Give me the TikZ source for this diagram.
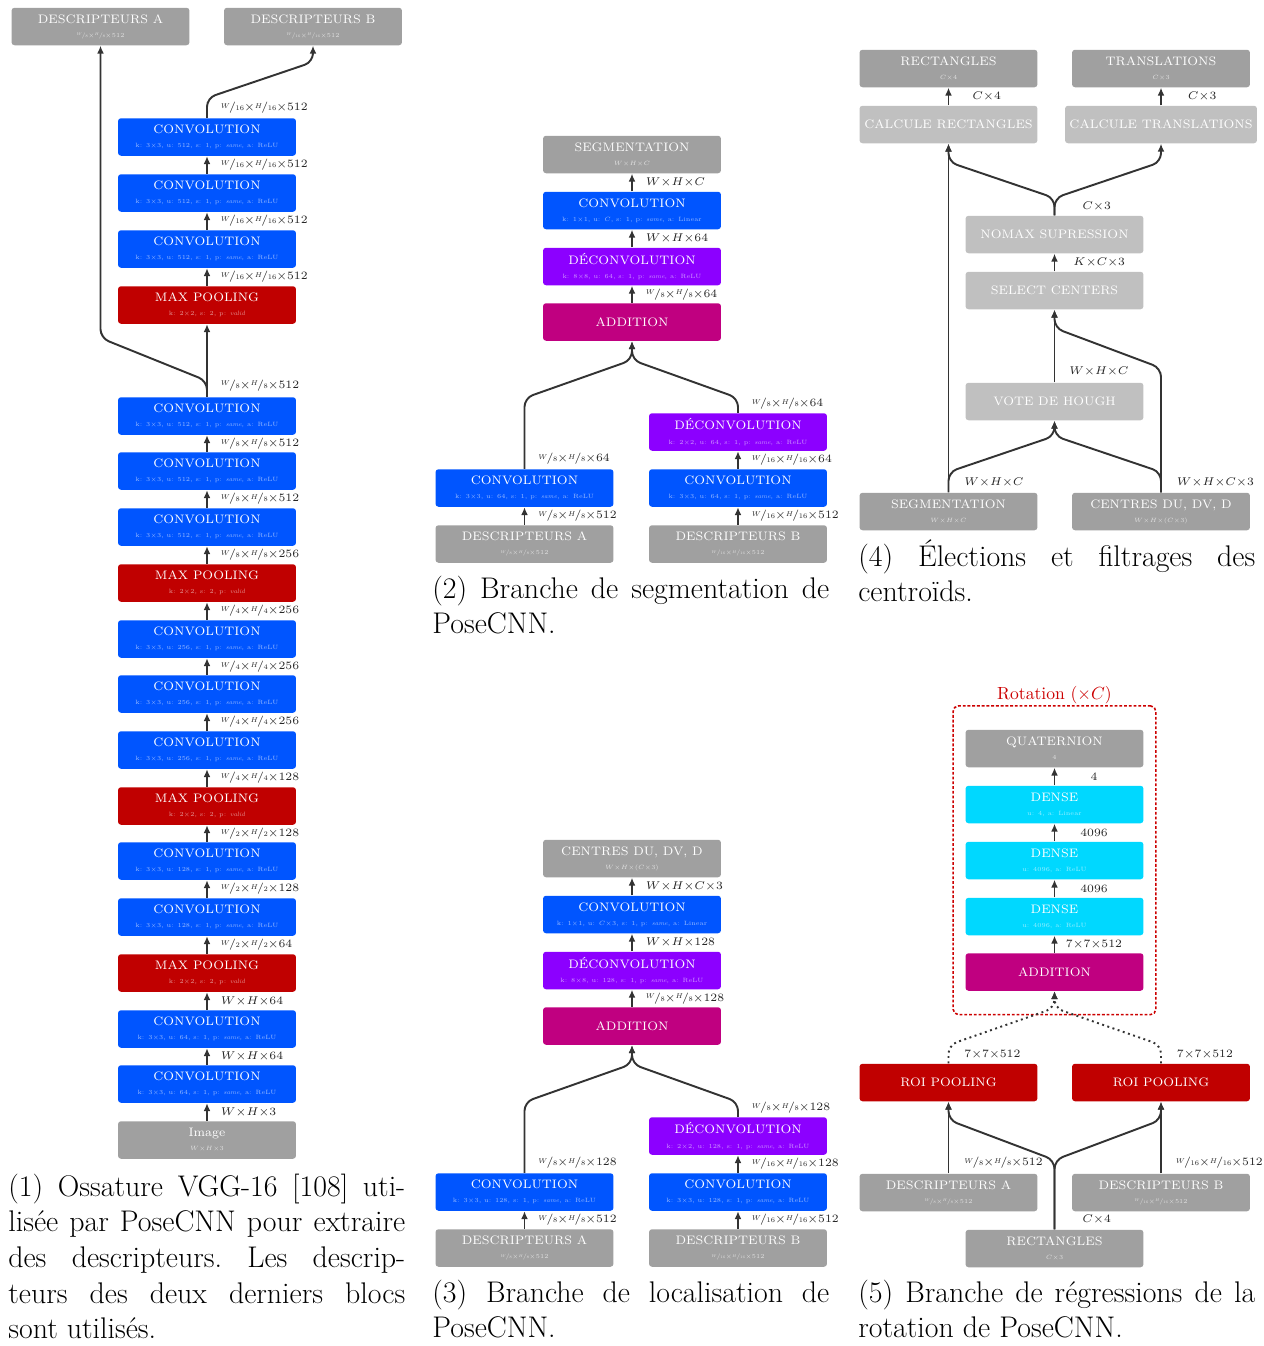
\RequirePackage{fix-cm}
\documentclass[tikz,border=0pt]{standalone}
\usepackage{fontspec}
\usepackage{graphicx}
\usepackage{tikz}
\usetikzlibrary{arrows.meta,positioning,fit}
\definecolor{convblue}{RGB}{0,85,255}
\definecolor{poolred}{RGB}{192,0,0}
\definecolor{deconvviolet}{RGB}{140,0,255}
\definecolor{addmagenta}{RGB}{192,0,128}
\definecolor{datagray}{RGB}{160,160,160}
\definecolor{opgray}{RGB}{192,192,192}
\definecolor{densecyan}{RGB}{0,216,255}
\definecolor{arrowgray}{RGB}{51,51,51}
\definecolor{framered}{RGB}{204,0,0}
\colorlet{subtxt}{white}

\newcommand\ttlfont{\fontsize{7}{8}\selectfont\addfontfeature{LetterSpace=6}}
\newcommand\subfont{\normalfont\fontsize{3.5}{4}\selectfont}
\newcommand\dimfont{\fontsize{6.4}{7.5}\selectfont}
\newcommand\capfont{\fontsize{17}{20.3}\selectfont\frenchspacing}
\newcommand\rotfont{\fontsize{10}{12}\selectfont}
\newcommand\frc[2]{\raisebox{0.45ex}{\scalebox{0.62}{$#1$}}\kern-0.08em/\kern-0.05em\scalebox{0.62}{#2}}
\newcommand\whd[2]{$\frc{W}{#1}{\times}\frc{H}{#1}{\times}#2$}
\newcommand\blk[2]{#1\\{\subfont\color{subtxt}#2}}
\newcommand\convsub[2]{k: #1$\times$#1, u: #2, s: 1, p: \textit{same}, a: ReLU}
\newcommand\poolsub{k: 2$\times$2, s: 2, p: \textit{valid}}

\begin{document}
\begin{tikzpicture}[x=0.02cm, y=-0.02cm,
    blockbase/.style={rectangle, rounded corners=1.7pt, minimum width=3.56cm,
                      minimum height=0.75cm, inner sep=0pt, align=center,
                      text=white, font=\ttlfont},
    convblk/.style={blockbase, fill=convblue,
                    execute at begin node={\colorlet{subtxt}{white!60!convblue}}},
    poolblk/.style={blockbase, fill=poolred,
                    execute at begin node={\colorlet{subtxt}{white!60!poolred}}},
    deconvblk/.style={blockbase, fill=deconvviolet,
                      execute at begin node={\colorlet{subtxt}{white!60!deconvviolet}}},
    addblk/.style={blockbase, fill=addmagenta},
    datablk/.style={blockbase, fill=datagray,
                    execute at begin node={\colorlet{subtxt}{white!70!datagray}}},
    opblk/.style={blockbase, fill=opgray},
    denseblk/.style={blockbase, fill=densecyan,
                     execute at begin node={\colorlet{subtxt}{white!60!densecyan}}},
    flow/.style={-{Latex[length=4.5pt,width=3.8pt]}, line width=1.1pt,
                 draw=arrowgray, rounded corners=5pt},
    roiflow/.style={flow, dotted},
    dimlab/.style={font=\dimfont, text=black!85, inner sep=0pt},
    captext/.style={font=\capfont, text width=7.94cm, align=justify,
                    inner sep=0pt, anchor=base west},
    rotframe/.style={draw=framered, dash pattern=on 1.6pt off 1.1pt,
                     line width=0.9pt, rounded corners=3pt,
                     inner xsep=0.24cm, inner ysep=0.47cm},
  ]
  \useasboundingbox (0,0) rectangle (1264,1346);

  \node[datablk] (descA) at (100.5,26.5) {\blk{DESCRIPTEURS A}{\whd{8}{512}}};
  \node[datablk] (descB) at (313,26.5) {\blk{DESCRIPTEURS B}{\whd{16}{512}}};
  \node[convblk] (c53) at (207,137) {\blk{CONVOLUTION}{\convsub{3}{512}}};
  \node[convblk] (c52) at (207,193) {\blk{CONVOLUTION}{\convsub{3}{512}}};
  \node[convblk] (c51) at (207,249) {\blk{CONVOLUTION}{\convsub{3}{512}}};
  \node[poolblk] (p4) at (207,305) {\blk{MAX POOLING}{\poolsub}};
  \node[convblk] (c43) at (207,416) {\blk{CONVOLUTION}{\convsub{3}{512}}};
  \node[convblk] (c42) at (207,471) {\blk{CONVOLUTION}{\convsub{3}{512}}};
  \node[convblk] (c41) at (207,527) {\blk{CONVOLUTION}{\convsub{3}{512}}};
  \node[poolblk] (p3) at (207,583) {\blk{MAX POOLING}{\poolsub}};
  \node[convblk] (c33) at (207,639) {\blk{CONVOLUTION}{\convsub{3}{256}}};
  \node[convblk] (c32) at (207,694) {\blk{CONVOLUTION}{\convsub{3}{256}}};
  \node[convblk] (c31) at (207,750) {\blk{CONVOLUTION}{\convsub{3}{256}}};
  \node[poolblk] (p2) at (207,806) {\blk{MAX POOLING}{\poolsub}};
  \node[convblk] (c22) at (207,861) {\blk{CONVOLUTION}{\convsub{3}{128}}};
  \node[convblk] (c21) at (207,917) {\blk{CONVOLUTION}{\convsub{3}{128}}};
  \node[poolblk] (p1) at (207,973) {\blk{MAX POOLING}{\poolsub}};
  \node[convblk] (c12) at (207,1029) {\blk{CONVOLUTION}{\convsub{3}{64}}};
  \node[convblk] (c11) at (207,1084) {\blk{CONVOLUTION}{\convsub{3}{64}}};
  \node[datablk] (img) at (207,1140) {\blk{Image}{$W{\times}H{\times}3$}};

  \draw[flow] (img.north) -- (c11.south)
        node[dimlab, midway, right=0.26cm] {$W{\times}H{\times}3$};
  \draw[flow] (c11.north) -- (c12.south)
        node[dimlab, midway, right=0.26cm] {$W{\times}H{\times}64$};
  \draw[flow] (c12.north) -- (p1.south)
        node[dimlab, midway, right=0.26cm] {$W{\times}H{\times}64$};
  \draw[flow] (p1.north) -- (c21.south)
        node[dimlab, midway, right=0.26cm] {\whd{2}{64}};
  \draw[flow] (c21.north) -- (c22.south)
        node[dimlab, midway, right=0.26cm] {\whd{2}{128}};
  \draw[flow] (c22.north) -- (p2.south)
        node[dimlab, midway, right=0.26cm] {\whd{2}{128}};
  \draw[flow] (p2.north) -- (c31.south)
        node[dimlab, midway, right=0.26cm] {\whd{4}{128}};
  \draw[flow] (c31.north) -- (c32.south)
        node[dimlab, midway, right=0.26cm] {\whd{4}{256}};
  \draw[flow] (c32.north) -- (c33.south)
        node[dimlab, midway, right=0.26cm] {\whd{4}{256}};
  \draw[flow] (c33.north) -- (p3.south)
        node[dimlab, midway, right=0.26cm] {\whd{4}{256}};
  \draw[flow] (p3.north) -- (c41.south)
        node[dimlab, midway, right=0.26cm] {\whd{8}{256}};
  \draw[flow] (c41.north) -- (c42.south)
        node[dimlab, midway, right=0.26cm] {\whd{8}{512}};
  \draw[flow] (c42.north) -- (c43.south)
        node[dimlab, midway, right=0.26cm] {\whd{8}{512}};
  \draw[flow] (c43.north) -- (p4.south)
        node[dimlab, pos=0.16, right=0.26cm] {\whd{8}{512}};
  \draw[flow] (c43.north) -- ++(0,-16) -- (descA.south |- 0,338) -- (descA.south);
  \draw[flow] (p4.north) -- (c51.south)
        node[dimlab, midway, right=0.26cm] {\whd{16}{512}};
  \draw[flow] (c51.north) -- (c52.south)
        node[dimlab, midway, right=0.26cm] {\whd{16}{512}};
  \draw[flow] (c52.north) -- (c53.south)
        node[dimlab, midway, right=0.26cm] {\whd{16}{512}};
  \draw[flow] (c53.north) -- ++(0,-20)
        node[dimlab, midway, right=0.26cm] {\whd{16}{512}}
        -- (descB.south |- 0,62) -- (descB.south);

  \node[datablk] (segout) at (632,154.5) {\blk{SEGMENTATION}{$W{\times}H{\times}C$}};
  \node[convblk] (sconv) at (632,210.5)
        {\blk{CONVOLUTION}{k: 1$\times$1, u: $C$, s: 1, p: \textit{same}, a: Linear}};
  \node[deconvblk] (sdeconv) at (632,266.5) {\blk{DÉCONVOLUTION}{\convsub{8}{64}}};
  \node[addblk] (sadd) at (632,322) {ADDITION};
  \node[convblk] (sconvA) at (524.5,488) {\blk{CONVOLUTION}{\convsub{3}{64}}};
  \node[datablk] (sdescA) at (524.5,544) {\blk{DESCRIPTEURS A}{\whd{8}{512}}};
  \node[deconvblk] (sdeconvB) at (738,432) {\blk{DÉCONVOLUTION}{\convsub{2}{64}}};
  \node[convblk] (sconvB) at (738,488) {\blk{CONVOLUTION}{\convsub{3}{64}}};
  \node[datablk] (sdescB) at (738,544) {\blk{DESCRIPTEURS B}{\whd{16}{512}}};

  \draw[flow] (sconv.north) -- (segout.south)
        node[dimlab, midway, right=0.26cm] {$W{\times}H{\times}C$};
  \draw[flow] (sdeconv.north) -- (sconv.south)
        node[dimlab, midway, right=0.26cm] {$W{\times}H{\times}64$};
  \draw[flow] (sadd.north) -- (sdeconv.south)
        node[dimlab, midway, right=0.26cm] {\whd{8}{64}};
  \draw[flow] (sconvA.north)
        -- node[dimlab, pos=0.14, right=0.26cm] {\whd{8}{64}} (sconvA.north |- 0,398)
        -- (sadd.south |- 0,360) -- (sadd.south);
  \draw[flow] (sdeconvB.north)
        -- node[dimlab, pos=0.6, right=0.26cm] {\whd{8}{64}} (sdeconvB.north |- 0,398)
        -- (sadd.south |- 0,360) -- (sadd.south);
  \draw[flow] (sdescA.north) -- (sconvA.south)
        node[dimlab, midway, right=0.26cm] {\whd{8}{512}};
  \draw[flow] (sconvB.north) -- (sdeconvB.south)
        node[dimlab, midway, right=0.26cm] {\whd{16}{64}};
  \draw[flow] (sdescB.north) -- (sconvB.south)
        node[dimlab, midway, right=0.26cm] {\whd{16}{512}};

  \node[datablk] (locout) at (632,858.5)
        {\blk{CENTRES DU, DV, D}{$W{\times}H{\times}(C{\times}3)$}};
  \node[convblk] (lconv) at (632,914.5)
        {\blk{CONVOLUTION}{k: 1$\times$1, u: $C{\times}3$, s: 1, p: \textit{same}, a: Linear}};
  \node[deconvblk] (ldeconv) at (632,970.5) {\blk{DÉCONVOLUTION}{\convsub{8}{128}}};
  \node[addblk] (ladd) at (632,1026) {ADDITION};
  \node[convblk] (lconvA) at (524.5,1192) {\blk{CONVOLUTION}{\convsub{3}{128}}};
  \node[datablk] (ldescA) at (524.5,1248) {\blk{DESCRIPTEURS A}{\whd{8}{512}}};
  \node[deconvblk] (ldeconvB) at (738,1136) {\blk{DÉCONVOLUTION}{\convsub{2}{128}}};
  \node[convblk] (lconvB) at (738,1192) {\blk{CONVOLUTION}{\convsub{3}{128}}};
  \node[datablk] (ldescB) at (738,1248) {\blk{DESCRIPTEURS B}{\whd{16}{512}}};

  \draw[flow] (lconv.north) -- (locout.south)
        node[dimlab, midway, right=0.26cm] {$W{\times}H{\times}C{\times}3$};
  \draw[flow] (ldeconv.north) -- (lconv.south)
        node[dimlab, midway, right=0.26cm] {$W{\times}H{\times}128$};
  \draw[flow] (ladd.north) -- (ldeconv.south)
        node[dimlab, midway, right=0.26cm] {\whd{8}{128}};
  \draw[flow] (lconvA.north)
        -- node[dimlab, pos=0.14, right=0.26cm] {\whd{8}{128}} (lconvA.north |- 0,1102)
        -- (ladd.south |- 0,1064) -- (ladd.south);
  \draw[flow] (ldeconvB.north)
        -- node[dimlab, pos=0.6, right=0.26cm] {\whd{8}{128}} (ldeconvB.north |- 0,1102)
        -- (ladd.south |- 0,1064) -- (ladd.south);
  \draw[flow] (ldescA.north) -- (lconvA.south)
        node[dimlab, midway, right=0.26cm] {\whd{8}{512}};
  \draw[flow] (lconvB.north) -- (ldeconvB.south)
        node[dimlab, midway, right=0.26cm] {\whd{16}{128}};
  \draw[flow] (ldescB.north) -- (lconvB.south)
        node[dimlab, midway, right=0.26cm] {\whd{16}{512}};

  \node[datablk] (rect) at (948.5,68.5) {\blk{RECTANGLES}{$C{\times}4$}};
  \node[datablk] (trans) at (1161,68.5) {\blk{TRANSLATIONS}{$C{\times}3$}};
  \node[opblk] (crect) at (948.5,124.5) {CALCULE RECTANGLES};
  \node[opblk, minimum width=3.84cm] (ctrans) at (1161,124.5) {CALCULE TRANSLATIONS};
  \node[opblk] (nms) at (1054.5,234.5) {NOMAX SUPRESSION};
  \node[opblk] (sel) at (1054.5,290.5) {SELECT CENTERS};
  \node[opblk] (hough) at (1054.5,401.5) {VOTE DE HOUGH};
  \node[datablk] (eseg) at (948.5,511.5) {\blk{SEGMENTATION}{$W{\times}H{\times}C$}};
  \node[datablk] (ectr) at (1161,511.5)
        {\blk{CENTRES DU, DV, D}{$W{\times}H{\times}(C{\times}3)$}};

  \draw[flow] (crect.north) -- (rect.south)
        node[dimlab, midway, right=0.46cm] {$C{\times}4$};
  \draw[flow] (ctrans.north) -- (trans.south)
        node[dimlab, midway, right=0.52cm] {$C{\times}3$};
  \draw[flow] (nms.north)
        -- node[dimlab, midway, right=0.54cm] {$C{\times}3$} (nms.north |- 0,198)
        -- (crect.south |- 0,162) -- (crect.south);
  \draw[flow] (nms.north) -- (nms.north |- 0,198)
        -- (ctrans.south |- 0,162) -- (ctrans.south);
  \draw[flow] (sel.north) -- (nms.south)
        node[dimlab, midway, right=0.36cm] {$K{\times}C{\times}3$};
  \draw[flow] (hough.north) -- (sel.south)
        node[dimlab, pos=0.15, right=0.28cm] {$W{\times}H{\times}C$};
  \draw[flow] (ectr.north)
        -- node[dimlab, pos=0.08, right=0.3cm] {$W{\times}H{\times}C{\times}3$} (ectr.north |- 0,368)
        -- (sel.south |- 0,328) -- (sel.south);
  \draw[flow] (eseg.north) -- (crect.south)
        node[dimlab, pos=0.03, right=0.3cm] {$W{\times}H{\times}C$};
  \draw[flow] (eseg.north) -- (eseg.north |- 0,472)
        -- (hough.south |- 0,436) -- (hough.south);
  \draw[flow] (ectr.north) -- (ectr.north |- 0,472)
        -- (hough.south |- 0,436) -- (hough.south);

  \node[datablk] (quat) at (1054.5,748.5) {\blk{QUATERNION}{4}};
  \node[denseblk] (d3) at (1054.5,804.5) {\blk{DENSE}{u: 4, a: Linear}};
  \node[denseblk] (d2) at (1054.5,860.5) {\blk{DENSE}{u: 4096, a: ReLU}};
  \node[denseblk] (d1) at (1054.5,916.5) {\blk{DENSE}{u: 4096, a: ReLU}};
  \node[addblk] (radd) at (1054.5,972) {ADDITION};
  \node[rotframe, fit=(quat)(radd)] (rot) {};
  \node[font=\rotfont, text=framered, anchor=base, inner sep=0pt] (rottitle)
        at ([yshift=0.12cm]rot.north) {Rotation ($\times C$)};
  \node[poolblk] (roiA) at (948.5,1082.5) {ROI POOLING};
  \node[poolblk] (roiB) at (1161,1082.5) {ROI POOLING};
  \node[datablk] (rdescA) at (948.5,1192.5) {\blk{DESCRIPTEURS A}{\whd{8}{512}}};
  \node[datablk] (rdescB) at (1161,1192.5) {\blk{DESCRIPTEURS B}{\whd{16}{512}}};
  \node[datablk] (rrect) at (1054.5,1248.5) {\blk{RECTANGLES}{$C{\times}3$}};

  \draw[flow] (d3.north) -- (quat.south)
        node[dimlab, midway, xshift=0.79cm] {4};
  \draw[flow] (d2.north) -- (d3.south)
        node[dimlab, midway, xshift=0.79cm] {4096};
  \draw[flow] (d1.north) -- (d2.south)
        node[dimlab, midway, xshift=0.79cm] {4096};
  \draw[flow] (radd.north) -- (d1.south)
        node[dimlab, midway, xshift=0.79cm] {$7{\times}7{\times}512$};
  \draw[roiflow] (roiA.north)
        -- node[dimlab, midway, right=0.3cm] {$7{\times}7{\times}512$} (roiA.north |- 0,1045)
        -- (radd.south |- 0,1008) -- (radd.south);
  \draw[roiflow] (roiB.north)
        -- node[dimlab, midway, right=0.3cm] {$7{\times}7{\times}512$} (roiB.north |- 0,1045)
        -- (radd.south |- 0,1008) -- (radd.south);
  \draw[flow] (rdescA.north) -- (roiA.south)
        node[dimlab, pos=0.15, right=0.3cm] {\whd{8}{512}};
  \draw[flow] (rdescB.north) -- (roiB.south)
        node[dimlab, pos=0.15, right=0.28cm] {\whd{16}{512}};
  \draw[flow] (rrect.north)
        -- node[dimlab, pos=0.14, right=0.54cm] {$C{\times}4$} (rrect.north |- 0,1160)
        -- (roiA.south |- 0,1120) -- (roiA.south);
  \draw[flow] (rrect.north) -- (rrect.north |- 0,1160)
        -- (roiB.south |- 0,1120) -- (roiB.south);

  \node[captext] (cap1) at (8,1196)
        {(1) Ossature VGG-16 [108] uti-\linebreak lisée par PoseCNN pour extraire\linebreak
         des descripteurs. Les descrip-\linebreak teurs des deux derniers blocs\linebreak
         sont utilisés.};
  \node[captext] (cap2) at (432,598) {(2) Branche de segmentation de\linebreak PoseCNN.};
  \node[captext] (cap3) at (432,1302) {(3) Branche de localisation de\linebreak PoseCNN.};
  \node[captext] (cap4) at (858,566) {(4) Élections et filtrages des\linebreak centroïds.};
  \node[captext] (cap5) at (858,1302)
        {(5) Branche de régressions de la\linebreak rotation de PoseCNN.};
\end{tikzpicture}
\end{document}
